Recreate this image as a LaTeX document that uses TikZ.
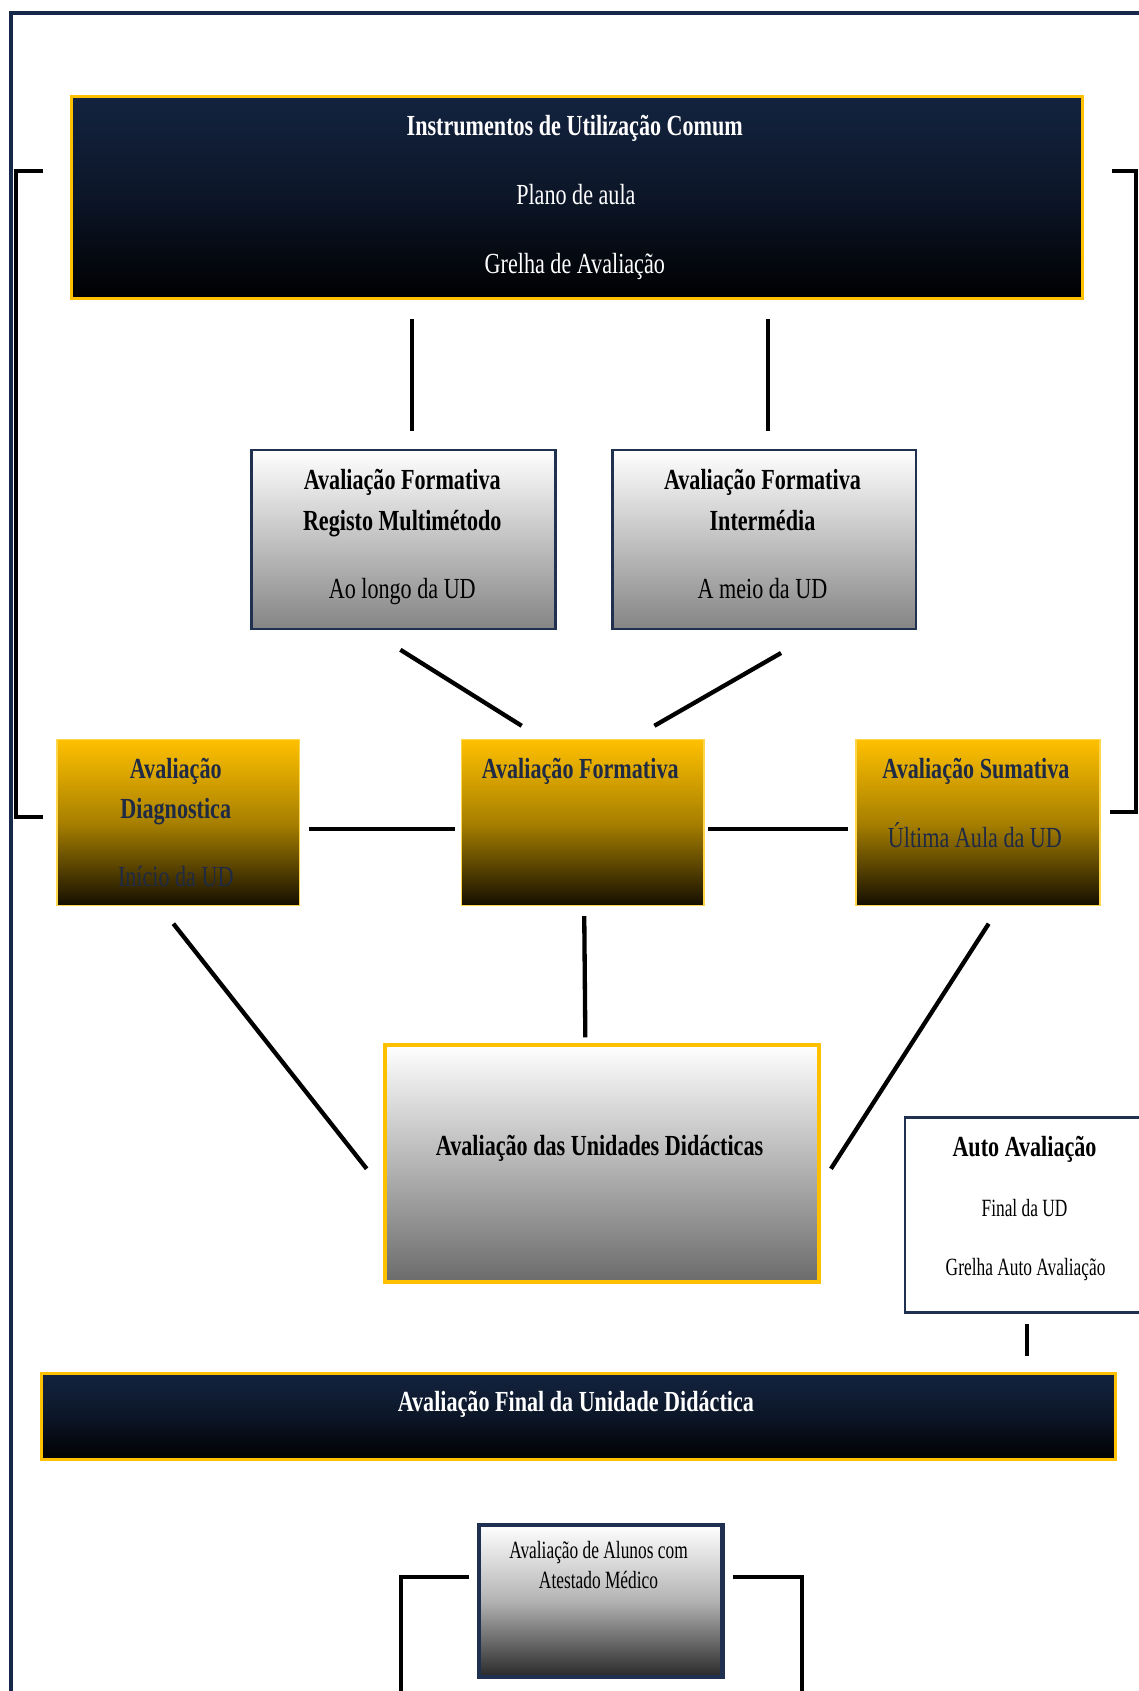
\documentclass[tikz,border=0pt]{standalone}
\usepackage{fontspec}
\setmainfont{Liberation Serif}[FakeStretch=0.76]
\newfontfamily\smallfont{Liberation Serif}[FakeStretch=0.70]
\usetikzlibrary{calc}
\definecolor{navytop}{HTML}{13233F}
\definecolor{navymid}{HTML}{0C1628}
\definecolor{frameblue}{HTML}{17294A}
\definecolor{gold}{HTML}{FFC000}
\definecolor{goldmid}{HTML}{A88000}
\definecolor{goldbot}{HTML}{140E00}
\definecolor{lightgold}{HTML}{FFD54A}
\definecolor{txtnavy}{HTML}{1F2A44}
\definecolor{boxnavy}{HTML}{1F3050}
\tikzset{
  darkbox/.style={draw=gold, line width=3pt, top color=navytop, bottom color=black, middle color=navymid, inner sep=0pt, anchor=north west},
  goldbox/.style={draw=lightgold, line width=1.5pt, top color=gold, bottom color=goldbot, middle color=goldmid, inner sep=0pt, anchor=north west},
  graybox/.style={draw=boxnavy, line width=2.5pt, top color=white, bottom color=black!48, inner sep=0pt, anchor=north west},
  bigbox/.style={draw=gold, line width=3.5pt, top color=white, bottom color=black!58, inner sep=0pt, anchor=north west},
  whitebox/.style={draw=boxnavy, line width=2.5pt, fill=white, inner sep=0pt, anchor=north west},
  medbox/.style={draw=boxnavy, line width=4pt, top color=white, bottom color=black!84, middle color=black!30, inner sep=0pt, anchor=north west},
  conn/.style={draw=black, line width=4pt},
  tb/.style={font=\fontsize{27}{30}\selectfont\bfseries, anchor=base, inner sep=0pt},
  tr/.style={font=\fontsize{27}{30}\selectfont, anchor=base, inner sep=0pt},
  ts/.style={font=\fontsize{23}{26}\smallfont, anchor=base, inner sep=0pt},
}
\begin{document}
\begin{tikzpicture}[x=1pt,y=-1pt]
\useasboundingbox (0,0) rectangle (1056,1568);
% outer frame
\draw[frameblue, line width=4pt] (10,1600) -- (10,12) -- (1080,12);

% boxes
\node[darkbox, minimum width=937pt, minimum height=187pt] (T) at (65,88) {};
\node[graybox, minimum width=282pt, minimum height=166pt] (A) at (232,416) {};
\node[graybox, minimum width=281pt, minimum height=166pt] (B) at (567,416) {};
\node[goldbox, minimum width=225pt, minimum height=154pt] (D) at (52,685) {};
\node[goldbox, minimum width=225pt, minimum height=154pt] (F) at (427,685) {};
\node[goldbox, minimum width=226pt, minimum height=154pt] (S) at (793,685) {};
\node[bigbox, minimum width=403pt, minimum height=220pt] (U) at (355,967) {};
\node[whitebox, minimum width=230pt, minimum height=181pt] (Au) at (838,1035) {};
\node[darkbox, minimum width=996pt, minimum height=80pt] (Fin) at (37,1272) {};
\node[medbox, minimum width=226pt, minimum height=141pt] (M) at (442,1412) {};

% texts
\node[tb, white] (t1) at (533,126) {Instrumentos de Utilização Comum};
\node[tr, white] (t2) at (534,190) {Plano de aula};
\node[tr, white] (t3) at (533,254) {Grelha de Avaliação};

\node[tb] (a1) at (373,454) {Avaliação Formativa};
\node[tb] (a2) at (373,492) {Registo Multimétodo};
\node[tr] (a3) at (373,555) {Ao longo da UD};

\node[tb] (b1) at (707,454) {Avaliação Formativa};
\node[tb] (b2) at (707,492) {Intermédia};
\node[tr] (b3) at (707,555) {A meio da UD};

\node[tb, txtnavy] (d1) at (163,722) {Avaliação};
\node[tb, txtnavy] (d2) at (163,759) {Diagnostica};
\node[tr, txtnavy] (d3) at (163,822) {Início da UD};

\node[tb, txtnavy] (f1) at (538,722) {Avaliação Formativa};

\node[tb, txtnavy] (s1) at (905,722) {Avaliação Sumativa};
\node[tr, txtnavy] (s2) at (904,786) {Última Aula da UD};

\node[tb] (u1) at (556,1071) {Avaliação das Unidades Didácticas};

\node[tb] (au1) at (950,1072) {Auto Avaliação};
\node[ts] (au2) at (950,1128) {Final da UD};
\node[ts] (au3) at (951,1183) {Grelha Auto Avaliação};

\node[tb, white] (fin1) at (534,1309) {Avaliação Final da Unidade Didáctica};

\node[ts] (m1) at (555,1445) {Avaliação de Alunos com};
\node[ts] (m2) at (555,1473) {Atestado Médico};

% connectors
\draw[conn] ($(A.north |- T.south)+(8,18)$) -- ($(A.north)+(8,-16)$);
\draw[conn] ($(B.north |- T.south)+(3.5,18)$) -- ($(B.north)+(3.5,-16)$);
\draw[conn] ($(A.south)+(-3,18)$) -- ($(F.north)+(-56.5,-12)$);
\draw[conn] ($(B.south)+(15.5,21)$) -- ($(F.north)+(66.5,-12)$);
\draw[conn] ($(D.east)+(8,6)$) -- ($(F.west)+(-5,6)$);
\draw[conn] ($(F.east)+(3,6)$) -- ($(S.west)+(-7,6)$);
\draw[conn] ($(D.south)+(-4.5,16)$) -- ($(U.west)+(-15,5)$);
\draw[conn] ($(F.south)+(1.5,9)$) -- ($(U.north)+(-15.5,-5)$);
\draw[conn] ($(S.south)+(10,16)$) -- ($(U.east)+(9,5)$);
\draw[conn] ($(Au.south)+(-2,9)$) -- ($(Au.south |- Fin.north)+(-2,-15)$);

% brackets
\draw[conn, line width=3.5pt] ($(T.west)+(-25,-24.5)$) -| ($(D.west)+(-37,-5)$) -- ($(D.west)+(-12,-5)$);
\draw[conn, line width=3.5pt] ($(T.east)+(26,-24.5)$) -| ($(S.east)+(33,-10)$) -- ($(S.east)+(9,-10)$);
\draw[conn, line width=3.5pt] ($(M.west)+(-7,-22.5)$) -| ($(M.west)+(-70,140)$);
\draw[conn, line width=3.5pt] ($(M.east)+(8,-22.5)$) -| ($(M.east)+(72,140)$);
\end{tikzpicture}
\end{document}
